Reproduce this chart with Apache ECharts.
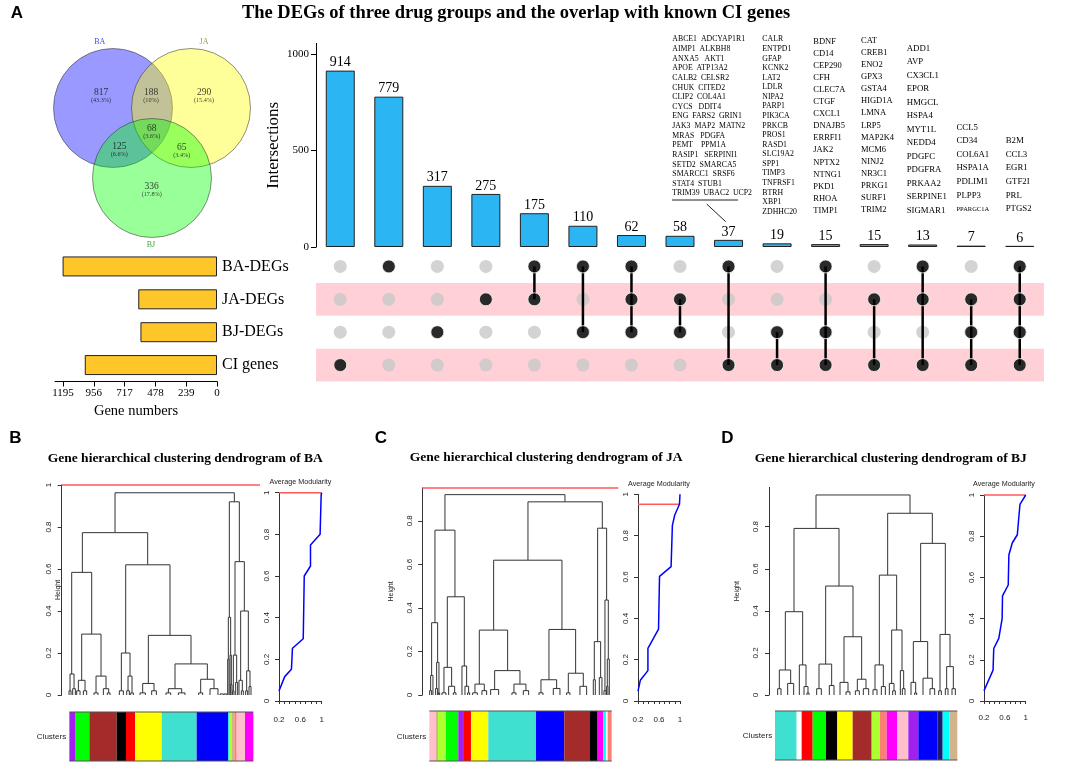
<!DOCTYPE html>
<html><head><meta charset="utf-8">
<script src="https://cdn.jsdelivr.net/npm/echarts@6/dist/echarts.min.js"></script>
<style>html,body{margin:0;padding:0;background:#fff}#c{width:1084px;height:781px}</style>
</head><body><div id="c"></div>
<script>
// ---------------- DATA ----------------
const setNames = ['BA-DEGs', 'JA-DEGs', 'BJ-DEGs', 'CI genes'];
const setSizes = [1198, 611, 594, 1026];
const geneNumberTicks = [0, 239, 478, 717, 956, 1195];
const intersectionSizes = [914, 779, 317, 275, 175, 110, 62, 58, 37, 19, 15, 15, 13, 7, 6];
const intersectionMembers = [[3], [0], [2], [1], [0, 1], [0, 2], [0, 1, 2], [1, 2], [0, 3], [2, 3], [0, 2, 3], [1, 3], [0, 1, 3], [1, 2, 3], [0, 1, 2, 3]];
const intersectionTicks = [0, 500, 1000];

const vennSetLabels = ['BA', 'JA', 'BJ'];
const vennRegionCounts = [817, 188, 290, 68, 125, 65, 336];
const vennRegionPercents = ['43.3%', '10%', '15.4%', '3.6%', '6.6%', '3.4%', '17.8%'];

const genesBA_CI = ['ABCE1  ADCYAP1R1', 'AIMP1  ALKBH8', 'ANXA5   AKT1', 'APOE  ATP13A2', 'CALB2  CELSR2', 'CHUK  CITED2', 'CLIP2  COL4A1', 'CYCS   DDIT4', 'ENG  FARS2  GRIN1', 'JAK3  MAP2  MATN2', 'MRAS   PDGFA', 'PEMT    PPM1A', 'RASIP1   SERPINI1', 'SETD2  SMARCA5', 'SMARCC1  SRSF6', 'STAT4  STUB1', 'TRIM39  UBAC2  UCP2'];
const genesBJ_CI = ['CALR', 'ENTPD1', 'GFAP', 'KCNK2', 'LAT2', 'LDLR', 'NIPA2', 'PARP1', 'PIK3CA', 'PRKCB', 'PROS1', 'RASD1', 'SLC19A2', 'SPP1', 'TIMP3', 'TNFRSF1', 'BTRH', 'XBP1', 'ZDHHC20'];
const genesBA_BJ_CI = ['BDNF', 'CD14', 'CEP290', 'CFH', 'CLEC7A', 'CTGF', 'CXCL1', 'DNAJB5', 'ERRFI1', 'JAK2', 'NPTX2', 'NTNG1', 'PKD1', 'RHOA', 'TIMP1'];
const genesJA_CI = ['CAT', 'CREB1', 'ENO2', 'GPX3', 'GSTA4', 'HIGD1A', 'LMNA', 'LRP5', 'MAP2K4', 'MCM6', 'NINJ2', 'NR3C1', 'PRKG1', 'SURF1', 'TRIM2'];
const genesBA_JA_CI = ['ADD1', 'AVP', 'CX3CL1', 'EPOR', 'HMGCL', 'HSPA4', 'MYT1L', 'NEDD4', 'PDGFC', 'PDGFRA', 'PRKAA2', 'SERPINE1', 'SIGMAR1'];
const genesJA_BJ_CI = ['CCL5', 'CD34', 'COL6A1', 'HSPA1A', 'PDLIM1', 'PLPP3', 'PPARGC1A'];
const genesAll = ['B2M', 'CCL3', 'EGR1', 'GTF2I', 'PRL', 'PTGS2'];

// dendrogram merges: [leftChildPos, leftChildHeight, rightChildPos, rightChildHeight, mergeHeight]
const dendroBA = [
  [345,0.773,703,0.92,0.963],[247,0.584,443,0.62,0.773],[215,0.10,275,0.29,0.584],[210,0.02,222,0.03,0.10],
  [207,0,213,0,0.02],[218,0,226,0,0.03],[245,0.07,303,0.09,0.29],[235,0.02,255,0.02,0.07],[230,0,240,0,0.02],
  [250,0,260,0,0.02],[288,0.01,318,0.03,0.09],[282,0,294,0,0.01],[310,0,326,0.01,0.03],[322,0,330,0,0.01],
  [377,0.20,510,0.284,0.62],[364,0.02,390,0.09,0.20],[358,0,370,0,0.02],[384,0.02,396,0.01,0.09],[380,0,388,0,0.02],
  [392,0,400,0,0.01],[445,0.055,573,0.148,0.284],[428,0.01,462,0.02,0.055],[420,0,436,0,0.01],[455,0,469,0,0.02],
  [525,0.03,622,0.075,0.148],[505,0.01,545,0.01,0.03],[498,0,512,0,0.01],[535,0,555,0,0.01],[602,0.01,642,0.03,0.075],
  [596,0,608,0,0.01],[630,0,654,0,0.03],[688,0.37,718,0.635,0.92],[685,0.17,692,0.19,0.37],[683,0,687,0,0.17],
  [690,0,694,0.05,0.19],[692,0,696,0,0.05],[705,0.19,733,0.40,0.635],[700,0.02,710,0.06,0.19],[698,0,702,0,0.02],
  [707,0,713,0,0.06],[722,0.07,745,0.115,0.40],[717,0,727,0.02,0.07],[724,0,730,0,0.02],[740,0.02,750,0.04,0.115],
  [737,0,743,0,0.02],[747,0,753,0,0.04],[660,0,670,0,0.005],[672,0,680,0,0.005]
];
const dendroJA = [
  [225,0.757,585,0.887,0.92],[195,0.332,255,0.451,0.757],[185,0.09,203,0.15,0.332],[182,0.02,189,0,0.09],
  [179,0,185,0,0.02],[200,0.03,207,0.01,0.15],[197,0,203,0,0.03],[205,0,209,0,0.01],[232,0.127,283,0.133,0.451],
  [222,0.01,245,0.04,0.127],[216,0,228,0,0.01],[236,0,254,0.01,0.04],[250,0,258,0,0.01],[276,0,290,0.04,0.133],
  [285,0,296,0.01,0.04],[293,0,299,0,0.01],[474,0.619,697,0.766,0.887],[371,0.298,576,0.301,0.619],
  [328,0.05,413,0.112,0.298],[315,0.01,343,0.02,0.05],[308,0,322,0,0.01],[336,0,350,0,0.02],[374,0.025,450,0.05,0.112],
  [362,0,386,0,0.025],[432,0.01,468,0.02,0.05],[426,0,438,0,0.01],[460,0,476,0,0.02],[537,0.07,617,0.10,0.301],
  [513,0.01,560,0.03,0.07],[507,0,519,0,0.01],[550,0,570,0,0.03],[595,0.01,640,0.04,0.10],[590,0,600,0,0.01],
  [630,0,650,0,0.04],[683,0.245,710,0.436,0.766],[673,0.07,692,0.08,0.245],[670,0,676,0,0.07],[688,0,696,0,0.08],
  [705,0.02,715,0.165,0.436],[702,0,708,0,0.02],[712,0.04,718,0,0.165],[710,0,714,0,0.04]
];
const dendroBJ = [
  [288,0.792,570,0.864,0.951],[222,0.396,357,0.518,0.792],[196,0.119,248,0.143,0.396],[178,0.03,212,0.055,0.119],
  [173,0,183,0,0.03],[203,0,221,0,0.055],[238,0,258,0.04,0.143],[252,0,264,0.01,0.04],[261,0,267,0,0.01],
  [317,0.147,399,0.277,0.518],[297,0.03,335,0.045,0.147],[290,0,304,0,0.03],[328,0,342,0,0.045],
  [372,0.06,425,0.075,0.277],[360,0,384,0.015,0.06],[378,0,390,0,0.015],[412,0.02,438,0.03,0.075],[406,0,418,0,0.02],
  [430,0,446,0,0.03],[503,0.57,637,0.721,0.864],[478,0.143,530,0.309,0.57],[465,0.025,490,0.04,0.143],
  [459,0,471,0,0.025],[484,0,496,0,0.04],[515,0.055,546,0.116,0.309],[508,0,522,0.02,0.055],[518,0,526,0,0.02],
  [541,0,551,0.03,0.116],[547,0,555,0,0.03],[602,0.254,676,0.288,0.721],[580,0.06,623,0.08,0.254],
  [573,0,587,0.01,0.06],[584,0,590,0,0.01],[609,0,637,0.03,0.08],[630,0,644,0,0.03],[660,0.02,690,0.135,0.288],
  [656,0,664,0,0.02],[680,0.03,700,0.03,0.135],[676,0,684,0,0.03],[696,0,706,0,0.03]
];
const heightTicksBA = [0, 0.2, 0.4, 0.6, 0.8, 1];
const heightTicksJA = [0, 0.2, 0.4, 0.6, 0.8];
const heightTicksBJ = [0, 0.2, 0.4, 0.6, 0.8];
const cutHeightBA = 1, cutHeightJA = 0.951;

// average modularity curves: [modularity, height]
const modularityBA = [[0.2,0.048],[0.307,0.117],[0.433,0.152],[0.452,0.253],[0.654,0.299],[0.673,0.6],[0.79,0.648],[0.79,0.749],[0.97,0.8],[0.99,0.99],[1,1]];
const modularityJA = [[0.2,0.048],[0.244,0.1],[0.389,0.147],[0.389,0.255],[0.591,0.348],[0.61,0.603],[0.83,0.65],[0.855,0.85],[0.9,0.9],[0.99,0.952],[1,1]];
const modularityBJ = [[0.2,0.05],[0.374,0.15],[0.387,0.255],[0.484,0.304],[0.548,0.4],[0.555,0.51],[0.665,0.563],[0.677,0.709],[0.742,0.767],[0.839,0.807],[0.89,0.955],[1,1]];
const modCutBA = 1, modCutJA = 0.952, modCutBJ = 1;
const modularityXTicks = [0.2, 0.3, 0.4, 0.5, 0.6, 0.7, 0.8, 0.9, 1];
const modularityXLabels = [0.2, 0.6, 1];
const modularityYTicks = [0, 0.2, 0.4, 0.6, 0.8, 1];

// cluster colour bars: [start, end, cluster colour]
const clustersBA = [[208,225,'purple'],[225,268,'green'],[268,350,'brown'],[350,378,'black'],[378,405,'red'],[405,485,'yellow'],[485,590,'turquoise'],[590,685,'blue'],[685,689,'cyan'],[689,696,'greenyellow'],[696,703,'tan'],[703,710,'salmon'],[710,735,'pink'],[735,760,'magenta']];
const clustersJA = [[178,198,'pink'],[198,204,'tan'],[204,228,'greenyellow'],[228,265,'green'],[265,282,'purple'],[282,303,'red'],[303,355,'yellow'],[355,498,'turquoise'],[498,583,'blue'],[583,660,'brown'],[660,683,'black'],[683,700,'magenta'],[700,708,'cyan'],[708,713,'white'],[713,725,'salmon']];
const clustersBJ = [[165,230,'turquoise'],[230,245,'white'],[245,278,'red'],[278,318,'green'],[318,352,'black'],[352,398,'yellow'],[398,455,'brown'],[455,480,'greenyellow'],[480,500,'salmon'],[500,532,'magenta'],[532,565,'pink'],[565,595,'purple'],[595,652,'blue'],[652,668,'midnightblue'],[668,688,'cyan'],[688,712,'tan']];

// ---------------- STYLE / LAYOUT ----------------
const SERIF = '"Liberation Serif","Times New Roman",serif';
const SANS = '"Liberation Sans",Arial,sans-serif';
const RCOL = {purple:'#A020F0',green:'#00FF00',brown:'#A52A2A',black:'#000000',red:'#FF0000',yellow:'#FFFF00',turquoise:'#40E0D0',blue:'#0000FF',cyan:'#00FFFF',greenyellow:'#ADFF2F',tan:'#D2B48C',salmon:'#FA8072',pink:'#FFC0CB',magenta:'#FF00FF',white:'#FFFFFF',midnightblue:'#191970'};
const plain = v => String(v);

const panels = [
  {dendro:dendroBA, ticks:heightTicksBA, cut:cutHeightBA, mod:modularityBA, modCut:modCutBA, clusters:clustersBA,
   dg:{left:61.7,top:485,width:198.3,height:210}, xMin:185, xMax:780, yMax:1, nameGap:0,
   mg:{left:279,top:492.7,width:42.7,height:208.3}, mOff:9, cg:{top:712,height:49}},
  {dendro:dendroJA, ticks:heightTicksJA, cut:cutHeightJA, mod:modularityJA, modCut:modCutJA, clusters:clustersJA,
   dg:{left:422.3,top:487.9,width:196,height:207.1}, xMin:157, xMax:745, yMax:0.951, nameGap:28,
   mg:{left:638,top:494.3,width:42,height:206.7}, mOff:9, cg:{top:711,height:50}},
  {dendro:dendroBJ, ticks:heightTicksBJ, cut:null, mod:modularityBJ, modCut:modCutBJ, clusters:clustersBJ,
   dg:{left:769,top:487.4,width:191,height:207.6}, xMin:147, xMax:720, yMax:0.987, nameGap:28,
   mg:{left:984,top:495,width:41.7,height:206}, mOff:7, cg:{top:711,height:49}}
];

const grids = [], xAxes = [], yAxes = [], series = [];
function addGrid(g){ grids.push(Object.assign({outerBoundsMode:'none', containLabel:false}, g)); return grids.length - 1; }

const catX = intersectionSizes.map((_, i) => String(i + 1));

// grid 0: intersection bars
let gi = addGrid({left:316, top:43.4, width:728, height:203.6});
xAxes.push({gridIndex:gi, type:'category', data:catX, show:false});
yAxes.push({gridIndex:gi, type:'value', min:0, max:1055, splitLine:{show:false},
  axisLine:{show:true, lineStyle:{color:'#000', width:1}},
  axisTick:{show:true, length:5, customValues:intersectionTicks, lineStyle:{color:'#000'}},
  axisLabel:{customValues:intersectionTicks, formatter:plain, fontFamily:SERIF, fontSize:11, color:'#000', margin:7},
  name:'Intersections', nameLocation:'middle', nameGap:34, nameMoveOverlap:false,
  nameTextStyle:{fontFamily:SERIF, fontSize:17, color:'#000'}});
series.push({type:'bar', xAxisIndex:gi, yAxisIndex:gi, data:intersectionSizes, barWidth:29,
  itemStyle:{color:'#2BB6F3', borderColor:'#222', borderWidth:1},
  label:{show:true, position:'top', distance:1, fontFamily:SERIF, fontSize:14, color:'#000'}});

// grid 1: matrix
gi = addGrid({left:316, top:250, width:728, height:131.5});
xAxes.push({gridIndex:gi, type:'category', data:catX, show:false});
yAxes.push({gridIndex:gi, type:'category', data:setNames, inverse:true,
  axisLine:{show:false}, axisTick:{show:false},
  axisLabel:{align:'left', margin:94, fontFamily:SERIF, fontSize:16, color:'#000', interval:0},
  splitArea:{show:true, interval:0, areaStyle:{color:['rgba(255,255,255,0)', '#FFD0D6']}}});
const allCells = [], activeCells = [], connectors = [];
intersectionMembers.forEach((m, i) => {
  setNames.forEach((_, r) => allCells.push([i, r]));
  m.forEach(r => activeCells.push([i, r]));
  connectors.push([i, Math.min(...m), Math.max(...m)]);
});
series.push({type:'scatter', xAxisIndex:gi, yAxisIndex:gi, data:allCells, symbolSize:13, itemStyle:{color:'#C8C8C8'}, z:2});
series.push({type:'custom', xAxisIndex:gi, yAxisIndex:gi, data:connectors, z:3,
  renderItem:(p, api) => {
    const a = api.coord([api.value(0), api.value(1)]), b = api.coord([api.value(0), api.value(2)]);
    return {type:'line', shape:{x1:a[0], y1:a[1], x2:b[0], y2:b[1]}, style:{stroke:'#000', lineWidth:2.5}};
  }});
series.push({type:'scatter', xAxisIndex:gi, yAxisIndex:gi, data:activeCells, symbolSize:13, z:4,
  itemStyle:{color:'#000', borderColor:'#fff', borderWidth:1}});

// grid 2: set sizes
gi = addGrid({left:55, top:250, width:162, height:131.5});
xAxes.push({gridIndex:gi, type:'value', inverse:true, min:0, max:1257, splitLine:{show:false},
  axisLine:{show:true, lineStyle:{color:'#000'}},
  axisTick:{show:true, length:5, customValues:geneNumberTicks, lineStyle:{color:'#000'}},
  axisLabel:{customValues:geneNumberTicks, formatter:plain, fontFamily:SERIF, fontSize:11, color:'#000', margin:6},
  name:'Gene numbers', nameLocation:'middle', nameGap:22, nameMoveOverlap:false,
  nameTextStyle:{fontFamily:SERIF, fontSize:14.5, color:'#000'}});
yAxes.push({gridIndex:gi, type:'category', data:setNames, inverse:true, show:false});
series.push({type:'bar', xAxisIndex:gi, yAxisIndex:gi, data:setSizes, barWidth:20,
  itemStyle:{color:'#FFC629', borderColor:'#222', borderWidth:1}});

// grid 3: venn (pixel-like layout space)
gi = addGrid({left:0, top:0, width:280, height:260});
xAxes.push({gridIndex:gi, type:'value', min:0, max:280, show:false});
yAxes.push({gridIndex:gi, type:'value', min:0, max:260, inverse:true, show:false});
const vennCircleLayout = [[113,108,'rgba(0,0,255,0.5)'],[191,108,'rgba(255,255,0,0.5)'],[152,178,'rgba(0,255,0,0.5)']];
series.push({type:'scatter', xAxisIndex:gi, yAxisIndex:gi, symbolSize:119, z:1,
  data: vennCircleLayout.map(c => ({value:[c[0], c[1]], itemStyle:{color:c[2]}})),
  itemStyle:{borderColor:'rgba(50,50,50,0.85)', borderWidth:0.8}});
const vennRegionLayout = [[101,96.3],[151,96.3],[204,96.3],[151.7,131.8],[119.3,150],[181.7,150.5],[151.7,189.6]];
series.push({type:'scatter', xAxisIndex:gi, yAxisIndex:gi, symbolSize:0.1, z:3,
  data: vennRegionCounts.map((v, i) => ({value:vennRegionLayout[i], label:{formatter:'{v|' + v + '}\n{p|(' + vennRegionPercents[i] + ')}'}})),
  itemStyle:{color:'rgba(0,0,0,0)'},
  label:{show:true, position:'inside', align:'center',
    rich:{v:{fontFamily:SERIF, fontSize:9.5, lineHeight:9, color:'#111', align:'center'},
          p:{fontFamily:SERIF, fontSize:6.2, lineHeight:7, color:'#111', align:'center'}}}});

// dendrogram panels
panels.forEach(P => {
  const g = addGrid(P.dg);
  xAxes.push({gridIndex:g, type:'value', min:P.xMin, max:P.xMax, show:false});
  yAxes.push({gridIndex:g, type:'value', min:0, max:P.yMax, splitLine:{show:false},
    axisLine:{show:true, lineStyle:{color:'#333'}},
    axisTick:{show:true, length:4, customValues:P.ticks, lineStyle:{color:'#333'}},
    axisLabel:{customValues:P.ticks, formatter:plain, rotate:90, margin:9, fontFamily:SANS, fontSize:8, color:'#222'},
    name:'Height', nameLocation:'middle', nameGap:P.nameGap, nameMoveOverlap:false,
    nameTextStyle:{fontFamily:SANS, fontSize:7, color:'#222'}});
  series.push({type:'custom', xAxisIndex:g, yAxisIndex:g, data:P.dendro, encode:{x:[0,2], y:[1,3,4]},
    renderItem:(p, api) => {
      const a = api.coord([api.value(0), api.value(1)]), b = api.coord([api.value(0), api.value(4)]);
      const c = api.coord([api.value(2), api.value(4)]), d = api.coord([api.value(2), api.value(3)]);
      return {type:'polyline', shape:{points:[a,b,c,d]}, style:{stroke:'#333', lineWidth:1, fill:null}};
    }});
  if (P.cut !== null) {
    series.push({type:'line', xAxisIndex:g, yAxisIndex:g, clip:false, symbol:'none',
      data:[[P.xMin, P.cut], [P.xMax, P.cut]], lineStyle:{color:'#FF5A5A', width:1.5}});
  }
});
panels.forEach(P => {
  const g = addGrid(P.mg);
  xAxes.push({gridIndex:g, type:'value', min:0.2, max:1, offset:P.mOff, splitLine:{show:false},
    axisLine:{show:true, lineStyle:{color:'#333'}},
    axisTick:{show:true, length:3, customValues:modularityXTicks, lineStyle:{color:'#333'}},
    axisLabel:{customValues:modularityXLabels, formatter:plain, fontFamily:SANS, fontSize:8, color:'#222', margin:6}});
  yAxes.push({gridIndex:g, type:'value', min:0, max:1, splitLine:{show:false},
    axisLine:{show:true, lineStyle:{color:'#333'}},
    axisTick:{show:true, length:4, customValues:modularityYTicks, lineStyle:{color:'#333'}},
    axisLabel:{customValues:modularityYTicks, formatter:plain, rotate:90, margin:8, fontFamily:SANS, fontSize:8, color:'#222'}});
  series.push({type:'line', xAxisIndex:g, yAxisIndex:g, clip:false, symbol:'none',
    data:[[0.2, P.modCut], [1, P.modCut]], lineStyle:{color:'#FF5A5A', width:1.5}});
  series.push({type:'line', xAxisIndex:g, yAxisIndex:g, clip:false, symbol:'none',
    data:P.mod, lineStyle:{color:'#0000FF', width:1.5}});
});
panels.forEach(P => {
  const g = addGrid({left:P.dg.left, width:P.dg.width, top:P.cg.top, height:P.cg.height});
  xAxes.push({gridIndex:g, type:'value', min:P.xMin, max:P.xMax, show:false});
  yAxes.push({gridIndex:g, type:'value', min:0, max:1, show:false});
  series.push({type:'custom', xAxisIndex:g, yAxisIndex:g, encode:{x:[0,1]},
    data:P.clusters.map(c => ({value:[c[0], c[1]], itemStyle:{color:RCOL[c[2]]}})),
    renderItem:(p, api) => {
      const a = api.coord([api.value(0), 1]), b = api.coord([api.value(1), 0]);
      return {type:'rect', shape:{x:a[0], y:a[1], width:b[0]-a[0], height:b[1]-a[1]}, style:{fill:api.visual('color')}};
    }});
  const s = P.clusters[0][0], e = P.clusters[P.clusters.length - 1][1];
  series.push({type:'line', xAxisIndex:g, yAxisIndex:g, clip:false, symbol:'none',
    data:[[s,1],[e,1],'-',[s,0],[e,0]], lineStyle:{color:'#555', width:1.2}, z:5});
});

// ---------------- TEXT ----------------
function txt(x, y, text, st){ return {type:'text', x:x, y:y, silent:true, z:10,
  style:Object.assign({text:text, fill:'#000', align:'center', verticalAlign:'middle', fontFamily:SERIF, fontSize:12}, st)}; }
function list(x, y, arr, fs, lh){ return txt(x, y, arr.join('\n'), {align:'left', verticalAlign:'top', fontSize:fs, lineHeight:lh}); }

const graphics = [
  txt(516, 13, 'The DEGs of three drug groups and the overlap with known CI genes', {fontSize:18.5, fontWeight:'bold'}),
  txt(17, 13, 'A', {fontFamily:SANS, fontSize:17, fontWeight:'bold'}),
  txt(15.5, 438, 'B', {fontFamily:SANS, fontSize:17, fontWeight:'bold'}),
  txt(381, 438, 'C', {fontFamily:SANS, fontSize:17, fontWeight:'bold'}),
  txt(727.5, 438, 'D', {fontFamily:SANS, fontSize:17, fontWeight:'bold'}),
  txt(185.3, 458.3, 'Gene hierarchical clustering dendrogram of BA', {fontSize:13.5, fontWeight:'bold'}),
  txt(546.2, 457.3, 'Gene hierarchical clustering dendrogram of JA', {fontSize:13.5, fontWeight:'bold'}),
  txt(890.8, 458.3, 'Gene hierarchical clustering dendrogram of BJ', {fontSize:13.5, fontWeight:'bold'}),
  txt(300.5, 482, 'Average Modularity', {fontFamily:SANS, fontSize:7.2, fill:'#222'}),
  txt(659, 483.7, 'Average Modularity', {fontFamily:SANS, fontSize:7.2, fill:'#222'}),
  txt(1004, 484, 'Average Modularity', {fontFamily:SANS, fontSize:7.2, fill:'#222'}),
  txt(51.5, 737, 'Clusters', {fontFamily:SANS, fontSize:8, fill:'#222'}),
  txt(411.5, 737, 'Clusters', {fontFamily:SANS, fontSize:8, fill:'#222'}),
  txt(757.5, 736, 'Clusters', {fontFamily:SANS, fontSize:8, fill:'#222'}),
  txt(99.7, 41.7, vennSetLabels[0], {fontSize:8, fill:'#4848F0'}),
  txt(204, 41.7, vennSetLabels[1], {fontSize:8, fill:'#A89A3A'}),
  txt(151, 245, vennSetLabels[2], {fontSize:8, fill:'#3DAA3D'}),
  list(672.3, 34.5, genesBA_CI, 7.8, 9.63),
  list(762.3, 34.5, genesBJ_CI, 7.8, 9.58),
  list(813.3, 35.6, genesBA_BJ_CI, 8.5, 12.07),
  list(861, 34.6, genesJA_CI, 8.5, 12.1),
  list(906.7, 41.5, genesBA_JA_CI, 8.8, 13.5),
  {type:'text', x:956.5, y:120.5, silent:true, z:10, style:{
    text: genesJA_BJ_CI.map((g, i) => i === genesJA_BJ_CI.length - 1 ? '{s|' + g + '}' : '{g|' + g + '}').join('\n'),
    align:'left', verticalAlign:'top', fill:'#000',
    rich:{g:{fontFamily:SERIF, fontSize:8.8, lineHeight:13.6}, s:{fontFamily:SERIF, fontSize:6.5, lineHeight:13.6}}}},
  list(1005.7, 133.9, genesAll, 8.8, 13.66),
  {type:'line', silent:true, shape:{x1:672, y1:200, x2:738, y2:200}, style:{stroke:'#222', lineWidth:1}},
  {type:'line', silent:true, shape:{x1:706.7, y1:204, x2:725.7, y2:221.7}, style:{stroke:'#222', lineWidth:1}}
];

const chart = echarts.init(document.getElementById('c'), null, {renderer:'canvas'});
chart.setOption({
  animation:false,
  backgroundColor:'#fff',
  grid:grids, xAxis:xAxes, yAxis:yAxes, series:series, graphic:graphics
});
</script></body></html>
